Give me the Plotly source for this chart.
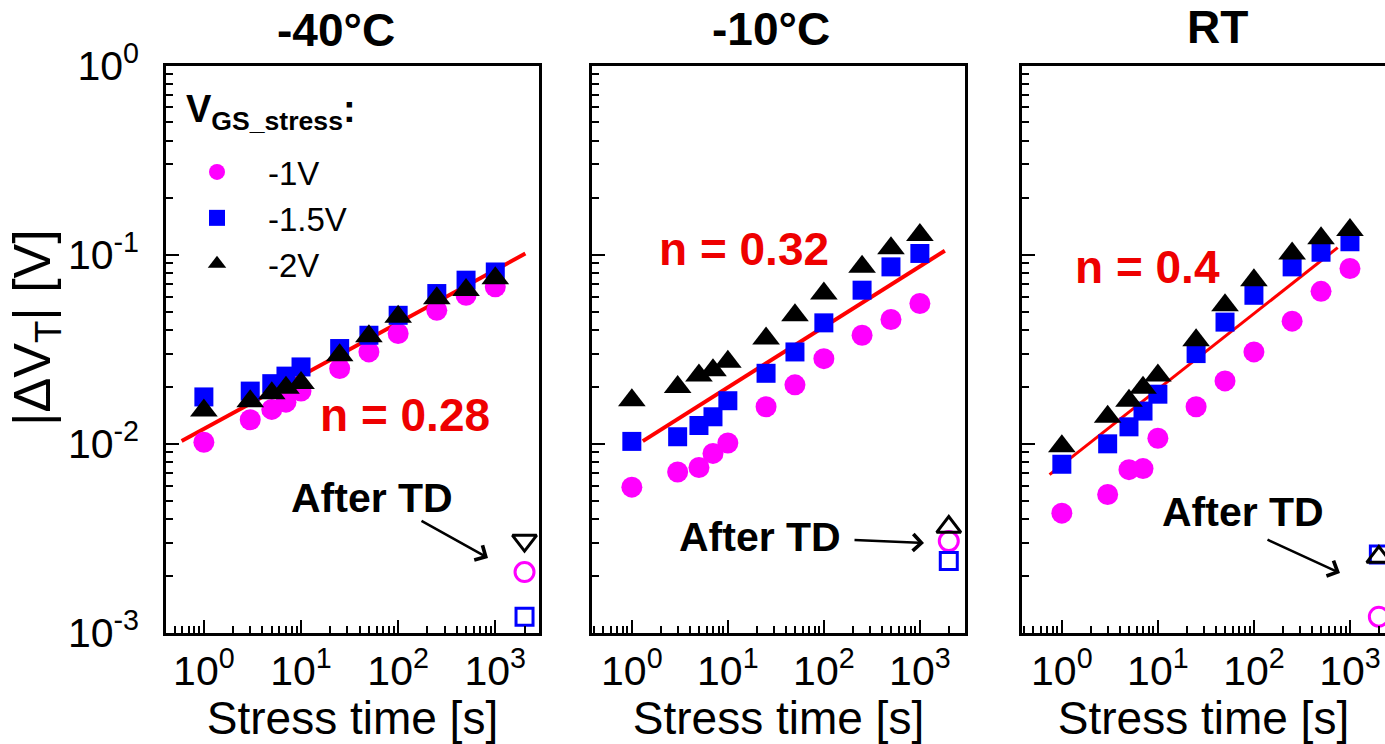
import plotly.graph_objects as go

W, H = 1385, 744
FONT = "Liberation Sans, Arial, sans-serif"

# ---------------- data ----------------
stress_time = [1, 3, 5, 7, 10, 25, 50, 100, 250, 500, 1000]
td_time = [2000]

# |dVT| [V] at -40 C
dvt_m40_1v = [0.0102, 0.0134, 0.0152, 0.0166, 0.0190, 0.0250, 0.0306, 0.0383, 0.0508, 0.0610, 0.0676]
dvt_m40_15v = [0.0177, 0.0190, 0.0208, 0.0228, 0.0255, 0.0319, 0.0375, 0.0478, 0.0623, 0.0733, 0.0810]
dvt_m40_2v = [0.0150, 0.0168, 0.0185, 0.0198, 0.0210, 0.0294, 0.0370, 0.0469, 0.0589, 0.0650, 0.0750]
td_m40_1v, td_m40_15v, td_m40_2v = [0.0021], [0.00122], [0.00308]

# |dVT| [V] at -10 C
dvt_m10_1v = [0.0059, 0.0071, 0.0075, 0.0089, 0.0101, 0.0157, 0.0205, 0.0282, 0.0375, 0.0454, 0.0552]
dvt_m10_15v = [0.0103, 0.0109, 0.0125, 0.0139, 0.0169, 0.0236, 0.0306, 0.0436, 0.0649, 0.0862, 0.1015]
dvt_m10_2v = [0.0170, 0.0200, 0.0230, 0.0245, 0.0272, 0.0360, 0.0478, 0.0623, 0.0862, 0.1080, 0.1270]
td_m10_1v, td_m10_15v, td_m10_2v = [0.00306], [0.0024], [0.00363]

# |dVT| [V] at room temperature
dvt_rt_1v = [0.0043, 0.0054, 0.0073, 0.0074, 0.0107, 0.0157, 0.0215, 0.0306, 0.0445, 0.0640, 0.0845]
dvt_rt_15v = [0.0078, 0.0100, 0.0123, 0.0149, 0.0183, 0.0300, 0.0440, 0.0610, 0.0862, 0.1030, 0.1170]
dvt_rt_2v = [0.0097, 0.0139, 0.0169, 0.0198, 0.0230, 0.0353, 0.0540, 0.0733, 0.1015, 0.1220, 0.1350]
td_rt_1v, td_rt_15v, td_rt_2v = [0.00122], [0.0026], [0.00252]

# power-law fits  dVT = A * t^n
fit_n = [0.28, 0.32, 0.4]
fit_a = [0.0120, 0.0095, 0.00773]
fit_t0 = [0.59, 1.3, 0.745]
fit_t1 = [2040, 1820, 745]

panel_titles = ["-40°C", "-10°C", "RT"]
series_names = ["-1V", "-1.5V", "-2V"]

# ---------------- layout helpers ----------------
def px(xp):
    return xp / W


def py(yp):
    return 1 - yp / H


dom_x = [(166, 539), (592, 965), (1022, 1385)]
x_ranges = [(-0.39, 3.45), (-0.415, 3.47), (-0.415, 3.365)]
dom_y = (py(633), py(65.5))

MAGENTA, BLUE, BLACK, RED = "#FF00FF", "#0000FF", "#000000", "#FF0000"

filled = [
    dict(symbol="circle", size=21, color=MAGENTA),
    dict(symbol="square", size=19, color=BLUE),
    dict(symbol="triangle-up", size=24, color=BLACK),
]
open_sym = [
    dict(symbol="circle-open", size=19, color=MAGENTA, line=dict(width=3, color=MAGENTA)),
    dict(symbol="square-open", size=17, color=BLUE, line=dict(width=3, color=BLUE)),
]

panel_data = [
    ([dvt_m40_1v, dvt_m40_15v, dvt_m40_2v], [td_m40_1v, td_m40_15v, td_m40_2v], "triangle-down-open"),
    ([dvt_m10_1v, dvt_m10_15v, dvt_m10_2v], [td_m10_1v, td_m10_15v, td_m10_2v], "triangle-up-open"),
    ([dvt_rt_1v, dvt_rt_15v, dvt_rt_2v], [td_rt_1v, td_rt_15v, td_rt_2v], "triangle-up-open"),
]

fig = go.Figure()

for i, (series, td, tri_open) in enumerate(panel_data):
    xa = "x" if i == 0 else f"x{i + 1}"
    ya = "y" if i == 0 else f"y{i + 1}"
    # fit line
    t_fit = [fit_t0[i], fit_t1[i]]
    v_fit = [fit_a[i] * t ** fit_n[i] for t in t_fit]
    fig.add_trace(go.Scatter(
        x=t_fit, y=v_fit, mode="lines", xaxis=xa, yaxis=ya,
        line=dict(color=RED, width=4 if i < 2 else 3), showlegend=False, hoverinfo="skip"))
    # stress data
    for k in range(3):
        fig.add_trace(go.Scatter(
            x=stress_time, y=series[k], mode="markers", xaxis=xa, yaxis=ya,
            name=series_names[k], marker=filled[k], showlegend=(i == 0)))
    # after thermal detrapping
    td_styles = open_sym + [dict(symbol=tri_open, size=21, color=BLACK, line=dict(width=3, color=BLACK))]
    for k in range(3):
        fig.add_trace(go.Scatter(
            x=td_time, y=td[k], mode="markers", xaxis=xa, yaxis=ya,
            marker=td_styles[k], showlegend=False))

major_x = [1, 10, 100, 1000]
major_x_text = ["10<sup>0</sup>", "10<sup>1</sup>", "10<sup>2</sup>", "10<sup>3</sup>"]
major_y = [0.001, 0.01, 0.1, 1]
major_y_text = ["10<sup>-3</sup>", "10<sup>-2</sup>", "10<sup>-1</sup>", "10<sup>0</sup>"]
minor_vals = [m * 10.0 ** e for e in range(-4, 4) for m in range(2, 10)]

common = dict(
    type="log", showline=True, linewidth=2.5, linecolor="black", automargin=False,
    ticks="inside", ticklen=13, tickwidth=2, tickcolor="black",
    showgrid=False, zeroline=False,
    minor=dict(tickmode="array", tickvals=minor_vals, ticks="inside", ticklen=7,
               tickwidth=2, tickcolor="black", showgrid=False),
    tickfont=dict(family=FONT, size=41, color="black"),
)

axes = {}
for i in range(3):
    xk = "xaxis" if i == 0 else f"xaxis{i + 1}"
    yk = "yaxis" if i == 0 else f"yaxis{i + 1}"
    xa = "x" if i == 0 else f"x{i + 1}"
    ya = "y" if i == 0 else f"y{i + 1}"
    axes[xk] = dict(
        common, domain=[px(dom_x[i][0]), px(dom_x[i][1])], range=list(x_ranges[i]),
        anchor=ya, mirror=True, tickmode="array", tickvals=major_x, ticktext=major_x_text,
        ticklabelstandoff=0,
        title=dict(text="Stress time [s]", font=dict(family=FONT, size=46, color="black"), standoff=0),
    )
    axes[yk] = dict(
        common, domain=list(dom_y), range=[-3, 0], anchor=xa, mirror=(i < 2),
        tickmode="array", tickvals=major_y, ticktext=major_y_text,
        showticklabels=(i == 0), ticklabelstandoff=16,
    )

annotations = []

# y-axis title
annotations.append(dict(text="|ΔV<sub>T</sub>| [V]", x=px(36), y=py(328), xref="paper", yref="paper",
                        textangle=-90, xanchor="center", yanchor="middle", showarrow=False,
                        font=dict(family=FONT, size=52, color="black")))

# legend heading
annotations.append(dict(text="<b>V<sub>GS_stress</sub>:</b>", x=px(184), y=py(112), xref="paper",
                        yref="paper", xanchor="left", yanchor="middle", showarrow=False,
                        font=dict(family=FONT, size=38, color="black")))

title_pos = [(336, 30), (771, 29), (1217, 27)]
for t, (x0, y0) in zip(panel_titles, title_pos):
    annotations.append(dict(text=f"<b>{t}</b>", x=px(x0), y=py(y0), xref="paper", yref="paper",
                            xanchor="center", yanchor="middle", showarrow=False,
                            font=dict(family=FONT, size=46, color="black")))

n_pos = [(405, 415), (744, 249), (1147, 267)]
for n, (x0, y0) in zip(fit_n, n_pos):
    annotations.append(dict(text=f"<b>n = {n:g}</b>", x=px(x0), y=py(y0), xref="paper", yref="paper",
                            xanchor="center", yanchor="middle", showarrow=False,
                            font=dict(family=FONT, size=46, color="#EE0000")))

td_pos = [(372, 498), (760, 537), (1243, 512)]
for (x0, y0) in td_pos:
    annotations.append(dict(text="<b>After TD</b>", x=px(x0), y=py(y0), xref="paper", yref="paper",
                            xanchor="center", yanchor="middle", showarrow=False,
                            font=dict(family=FONT, size=41, color="black")))

arrows = [((420, 520), (488, 558)), ((853, 540), (924, 543)), ((1266, 539), (1340, 573))]
for (tx, ty), (hx, hy) in arrows:
    annotations.append(dict(text="", x=px(hx), y=py(hy), xref="paper", yref="paper",
                            ax=tx - hx, ay=ty - hy, showarrow=True, arrowhead=4, arrowsize=1.3,
                            arrowwidth=2.5, arrowcolor="black"))

fig.update_layout(
    width=W, height=H, margin=dict(l=0, r=0, t=0, b=0, autoexpand=False),
    paper_bgcolor="white", plot_bgcolor="white",
    font=dict(family=FONT, color="black"),
    annotations=annotations,
    legend=dict(x=px(166), y=py(144), xanchor="left", yanchor="top", bgcolor="rgba(0,0,0,0)",
                font=dict(family=FONT, size=33, color="black"), itemwidth=92, tracegroupgap=0),
    **axes,
)

fig.write_html("out.html")
